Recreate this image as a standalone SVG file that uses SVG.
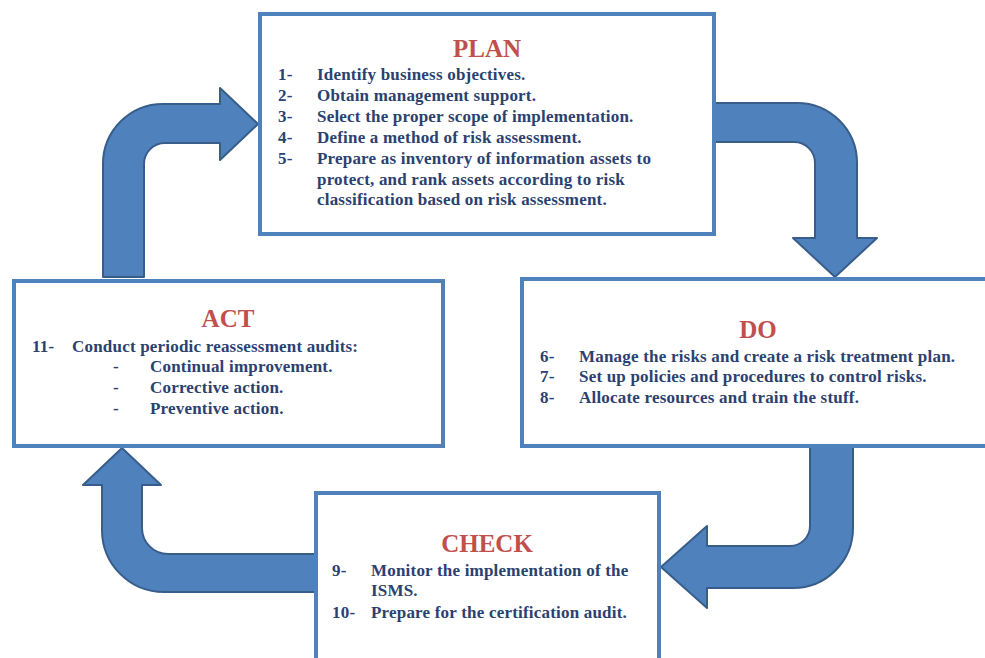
<svg xmlns="http://www.w3.org/2000/svg" width="985" height="658" viewBox="0 0 985 658">
<style>
.box{fill:#fff;stroke:#4F81BD;stroke-width:4}
.arrow{fill:#4F81BD;stroke:#385D8A;stroke-width:2;stroke-linejoin:round}
.title{font-family:"Liberation Serif","Times New Roman",serif;font-weight:bold;font-size:25px;fill:#C0504D;text-anchor:middle}
.t{font-family:"Liberation Serif","Times New Roman",serif;font-weight:bold;font-size:17px;letter-spacing:0.2px;fill:#2B4170}
</style>
<rect width="985" height="658" fill="#fff"/>
<g id="connectors">
<path class="arrow" d="M103,277 L103,164 A60,60 0 0 1 163,104 L220,104 L220,88 L258,124 L220,160 L220,143 L165,143 A21,21 0 0 0 144,164 L144,277 Z"/>
<path class="arrow" d="M714,103 L797,103 A60,60 0 0 1 857,163 L857,238 L877,238 L835,277 L793,238 L815,238 L815,163 A21,21 0 0 0 794,142 L714,142 Z"/>
<path class="arrow" d="M810,447 L810,526 A20,20 0 0 1 790,546 L707,546 L707,526 L661,567 L707,608 L707,588 L793,588 A60,60 0 0 0 853,528 L853,447 Z"/>
<path class="arrow" d="M316,554 L168,554 A26,26 0 0 1 142,528 L142,485 L161,485 L122,448 L83,485 L102,485 L102,530 A62,62 0 0 0 164,592 L316,592 Z"/>
</g>
<g id="plan">
<rect class="box" x="260" y="14" width="454" height="220"/>
<text class="title" x="487" y="57">PLAN</text>
<text class="t" x="278" y="80">1-</text><text class="t" x="317" y="80">Identify business objectives.</text>
<text class="t" x="278" y="101">2-</text><text class="t" x="317" y="101">Obtain management support.</text>
<text class="t" x="278" y="122">3-</text><text class="t" x="317" y="122">Select the proper scope of implementation.</text>
<text class="t" x="278" y="143">4-</text><text class="t" x="317" y="143">Define a method of risk assessment.</text>
<text class="t" x="278" y="164">5-</text><text class="t" x="317" y="164">Prepare as inventory of information assets to</text>
<text class="t" x="317" y="185">protect, and rank assets according to risk</text>
<text class="t" x="317" y="205">classification based on risk assessment.</text>
</g>
<g id="do">
<rect class="box" x="522" y="279" width="480" height="167"/>
<text class="title" x="758" y="338">DO</text>
<text class="t" x="540" y="362">6-</text><text class="t" x="579" y="362">Manage the risks and create a risk treatment plan.</text>
<text class="t" x="540" y="382">7-</text><text class="t" x="579" y="382">Set up policies and procedures to control risks.</text>
<text class="t" x="540" y="403">8-</text><text class="t" x="579" y="403">Allocate resources and train the stuff.</text>
</g>
<g id="act">
<rect class="box" x="14" y="281" width="429" height="165"/>
<text class="title" x="228" y="327">ACT</text>
<text class="t" x="32" y="352">11-</text><text class="t" x="72" y="352">Conduct periodic reassessment audits:</text>
<text class="t" x="113" y="372">-</text><text class="t" x="150" y="372">Continual improvement.</text>
<text class="t" x="113" y="393">-</text><text class="t" x="150" y="393">Corrective action.</text>
<text class="t" x="113" y="414">-</text><text class="t" x="150" y="414">Preventive action.</text>
</g>
<g id="check">
<rect class="box" x="316" y="493" width="343" height="200"/>
<text class="title" x="487" y="552">CHECK</text>
<text class="t" x="332" y="576">9-</text><text class="t" x="371" y="576">Monitor the implementation of the</text>
<text class="t" x="371" y="596">ISMS.</text>
<text class="t" x="332" y="618">10-</text><text class="t" x="371" y="618">Prepare for the certification audit.</text>
</g>
</svg>
